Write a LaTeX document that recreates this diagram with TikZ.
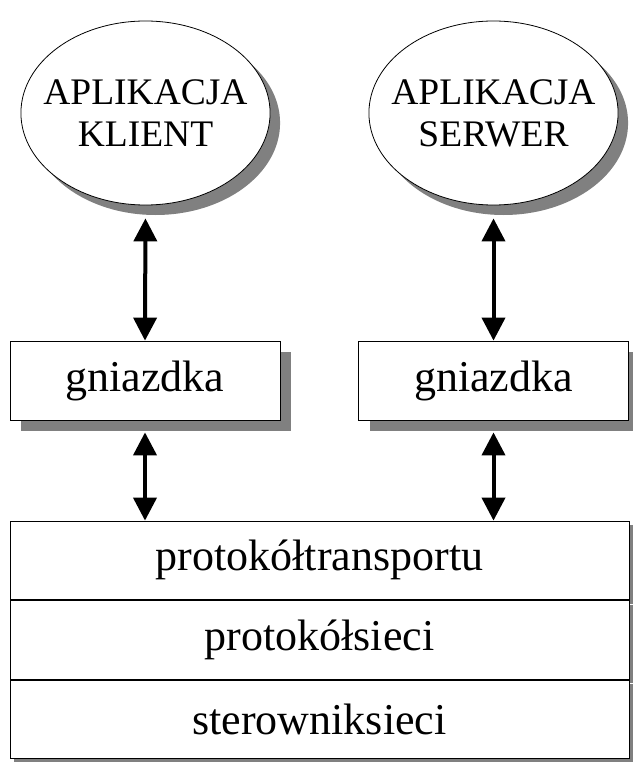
\documentclass[tikz,border=0pt]{standalone}
\usepackage{fontspec}
\setmainfont{Liberation Serif}
\usetikzlibrary{arrows.meta,positioning,calc,shapes.geometric,shadows}
\tikzset{
  gn/.style={x=1pt, y=1pt},
  g shadow/.style={drop shadow={shadow xshift=#1, shadow yshift=-#1, fill=black!50, opacity=1}},
  g app/.style={draw, ellipse, fill=white, line width=0.8pt, minimum width=249pt, minimum height=184pt,
                inner xsep=-14pt, inner ysep=0pt, align=center, font=\fontsize{37.5}{42}\selectfont, g shadow=10pt},
  g sock/.style={draw, rectangle, fill=white, line width=0.8pt, minimum width=270pt, minimum height=79pt,
                 font=\fontsize{44}{50}\selectfont, g shadow=11pt},
  g layer/.style={draw, rectangle, fill=white, line width=0.8pt, minimum width=619pt, minimum height=78.7pt,
                  font=\fontsize{44}{50}\selectfont, g shadow=4pt},
  g arr/.style={{Triangle[length=23pt,width=23pt]}-{Triangle[length=23pt,width=23pt]}, line width=4pt},
}

\begin{document}
\begin{tikzpicture}[gn]
\useasboundingbox (0,0) rectangle (632,-762);
% ---- applications ----
\node[g app] (klient) at (145.5,-113) {APLIKACJA\\KLIENT};
\node[g app] (serwer) at (493.5,-113) {APLIKACJA\\SERWER};
% ---- sockets ----
\node[g sock] (gk) at (145,-380.5) {gniazdka};
\node[g sock] (gs) at (493.5,-380.5) {gniazdka};
% ---- protocol stack ----
\node[g layer] (tr) at (319.5,-560.35) {protokółtransportu};
\node[g layer, below=0pt of tr] (ip) {protokółsieci};
\node[g layer, below=0pt of ip] (drv) {sterowniksieci};
% ---- arrows ----
\draw[g arr, shorten <=13pt] (klient.south) -- (gk.north);
\draw[g arr, shorten <=13pt] (serwer.south) -- (gs.north);
\draw[g arr, shorten <=12pt] (gk.south) -- (gk.south |- tr.north);
\draw[g arr, shorten <=12pt] (gs.south) -- (gs.south |- tr.north);
\end{tikzpicture}
\end{document}
